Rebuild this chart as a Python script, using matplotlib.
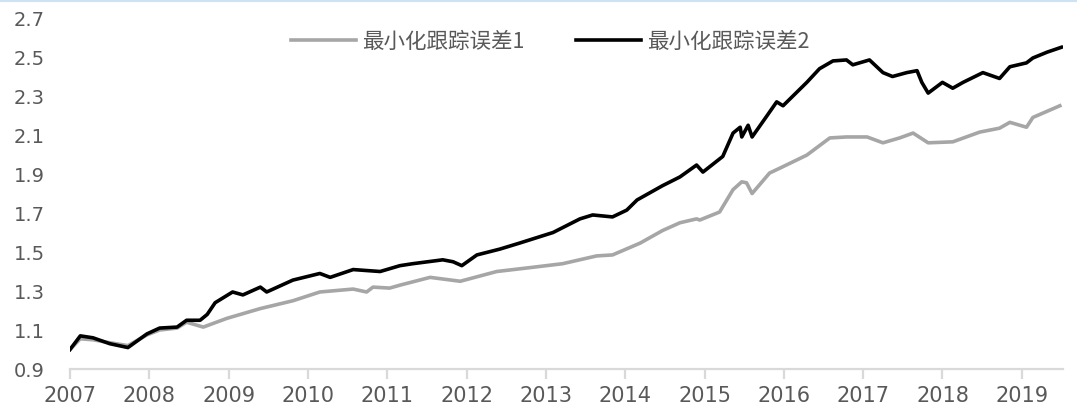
import matplotlib
matplotlib.use("Agg")
import matplotlib.pyplot as plt
from matplotlib.lines import Line2D

# Decimal-year positions and values
years_1 = [2007.00, 2007.13, 2007.29, 2007.50, 2007.73, 2007.97, 2008.13, 2008.35, 2008.47,
           2008.68, 2008.98, 2009.40, 2009.81, 2010.15, 2010.57, 2010.74, 2010.82, 2011.03,
           2011.16, 2011.54, 2011.92, 2012.38, 2012.80, 2013.21, 2013.64, 2013.84, 2014.19,
           2014.47, 2014.69, 2014.90, 2014.94, 2015.19, 2015.36, 2015.47, 2015.53, 2015.60,
           2015.82, 2015.95, 2016.29, 2016.58, 2016.79, 2017.05, 2017.25, 2017.46, 2017.63,
           2017.82, 2018.13, 2018.47, 2018.72, 2018.85, 2019.06, 2019.14, 2019.48]
values_1 = [1.00, 1.055, 1.05, 1.035, 1.02, 1.075, 1.10, 1.11, 1.14,
            1.115, 1.16, 1.21, 1.25, 1.295, 1.31, 1.295, 1.32, 1.315,
            1.33, 1.37, 1.35, 1.40, 1.42, 1.44, 1.48, 1.485, 1.546,
            1.61, 1.65, 1.67, 1.664, 1.705, 1.82, 1.86, 1.855, 1.80,
            1.905, 1.93, 1.997, 2.085, 2.09, 2.09, 2.06, 2.085, 2.11,
            2.06, 2.065, 2.115, 2.135, 2.165, 2.14, 2.19, 2.25]

years_2 = [2007.00, 2007.13, 2007.29, 2007.50, 2007.73, 2007.97, 2008.13, 2008.35, 2008.47,
           2008.64, 2008.73, 2008.83, 2009.05, 2009.18, 2009.40, 2009.48, 2009.81, 2010.15,
           2010.28, 2010.57, 2010.91, 2011.16, 2011.32, 2011.70, 2011.83, 2011.94, 2012.13,
           2012.42, 2012.67, 2013.09, 2013.43, 2013.59, 2013.84, 2014.02, 2014.15, 2014.47,
           2014.69, 2014.90, 2014.98, 2015.23, 2015.36, 2015.45, 2015.47, 2015.55, 2015.60,
           2015.79, 2015.91, 2015.99, 2016.29, 2016.45, 2016.62, 2016.79, 2016.87, 2017.08,
           2017.25, 2017.37, 2017.55, 2017.68, 2017.74, 2017.82, 2018.00, 2018.13, 2018.26,
           2018.51, 2018.72, 2018.85, 2019.06, 2019.14, 2019.32, 2019.50]
values_2 = [1.00, 1.07, 1.06, 1.03, 1.01, 1.08, 1.11, 1.115, 1.15,
            1.15, 1.18, 1.24, 1.295, 1.28, 1.32, 1.295, 1.356, 1.39,
            1.37, 1.41, 1.40, 1.43, 1.44, 1.46, 1.45, 1.43, 1.485,
            1.515, 1.546, 1.60, 1.67, 1.69, 1.68, 1.715, 1.767, 1.84,
            1.885, 1.946, 1.91, 1.99, 2.11, 2.14, 2.09, 2.15, 2.09,
            2.20, 2.27, 2.25, 2.37, 2.44, 2.48, 2.485, 2.46, 2.485,
            2.42, 2.40, 2.42, 2.43, 2.37, 2.315, 2.37, 2.34, 2.37,
            2.42, 2.39, 2.45, 2.47, 2.495, 2.525, 2.55]

series_names = ["最小化跟踪误差1", "最小化跟踪误差2"]
x_ticks = list(range(2007, 2020))
y_ticks = [0.9, 1.1, 1.3, 1.5, 1.7, 1.9, 2.1, 2.3, 2.5, 2.7]

fig = plt.figure(figsize=(10.77, 4.2), dpi=100)
ax = fig.add_axes([0.065, 0.1214, 0.922, 0.8357])

ax.plot(years_1, values_1, color="#a6a6a6", lw=2.6, label=series_names[0])
ax.plot(years_2, values_2, color="#000000", lw=2.6, label=series_names[1])

ax.set_xlim(2007, 2019.52)
ax.set_ylim(0.9, 2.7)
ax.set_xticks(x_ticks)
ax.set_xticklabels([str(y) for y in x_ticks])
ax.set_yticks(y_ticks)
ax.set_yticklabels([f"{v:.1f}" for v in y_ticks])

for s in ["top", "right", "left"]:
    ax.spines[s].set_visible(False)
ax.spines["bottom"].set_color("#d9d9d9")
ax.spines["bottom"].set_linewidth(1.6)

ax.tick_params(axis="x", length=7, width=1.6, color="#d9d9d9", pad=5,
               labelsize=15, labelcolor="#595959")
ax.tick_params(axis="y", length=0, pad=18, labelsize=14, labelcolor="#595959")

leg = fig.legend(loc="center", bbox_to_anchor=(0.511, 0.9), ncol=2, frameon=False,
                 prop={"family": ["Noto Sans CJK SC", "DejaVu Sans"], "size": 15.5},
                 handlelength=3.0, handletextpad=0.3, columnspacing=2.4)
for t in leg.get_texts():
    t.set_color("#595959")

fig.add_artist(Line2D([0, 1], [0.998, 0.998], transform=fig.transFigure,
                      color="#cfe2f3", lw=1.5))

fig.savefig("out.png", dpi=100, facecolor="white")
